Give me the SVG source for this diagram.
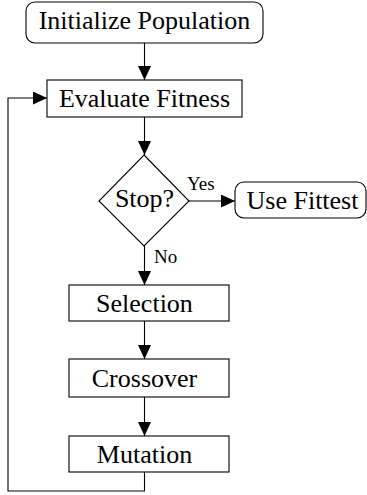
<svg xmlns="http://www.w3.org/2000/svg" width="367" height="495" viewBox="0 0 367 495">
<defs>
<style>
.n{fill:#fff;stroke:#000;stroke-width:1.1}
.t{font-family:"Liberation Serif","Times New Roman",serif;font-size:26px;fill:#000;text-anchor:middle}
.l{font-family:"Liberation Serif","Times New Roman",serif;font-size:19px;fill:#000}
.c{fill:none;stroke:#000;stroke-width:1.1}
</style>
<marker id="ah" markerWidth="14" markerHeight="13" refX="14" refY="6.5" orient="auto" markerUnits="userSpaceOnUse">
<path d="M0,0 L14,6.5 L0,13 Z" fill="#000"/>
</marker>
</defs>
<rect width="367" height="495" fill="#fff"/>
<g id="connectors">
<path class="c" d="M144.5,43 V80" marker-end="url(#ah)"/>
<path class="c" d="M144.5,117 V155" marker-end="url(#ah)"/>
<path class="c" d="M189,201 H235" marker-end="url(#ah)"/>
<path class="c" d="M144.5,246 V285" marker-end="url(#ah)"/>
<path class="c" d="M144.5,321 V359" marker-end="url(#ah)"/>
<path class="c" d="M144.5,397 V436" marker-end="url(#ah)"/>
<path class="c" d="M144.5,472 V491 H8 V98 H47" marker-end="url(#ah)"/>
<text class="l" x="187" y="190">Yes</text>
<text class="l" x="154" y="263">No</text>
</g>
<g id="init">
<rect class="n" x="26" y="2" width="237" height="41" rx="9"/>
<text class="t" x="144.5" y="29">Initialize Population</text>
</g>
<g id="evaluate">
<rect class="n" x="47" y="80" width="195" height="37"/>
<text class="t" x="144.5" y="107">Evaluate Fitness</text>
</g>
<g id="stop">
<polygon class="n" points="144,155 189,201 144,246 99,201"/>
<text class="t" x="144.5" y="207">Stop?</text>
</g>
<g id="usefittest">
<rect class="n" x="235" y="182" width="131" height="36" rx="9"/>
<text class="t" x="302.5" y="208.5">Use Fittest</text>
</g>
<g id="selection">
<rect class="n" x="69" y="285" width="160" height="36"/>
<text class="t" x="144.5" y="311.5">Selection</text>
</g>
<g id="crossover">
<rect class="n" x="69" y="359" width="160" height="38"/>
<text class="t" x="144.5" y="386.5">Crossover</text>
</g>
<g id="mutation">
<rect class="n" x="69" y="436" width="160" height="36"/>
<text class="t" x="144.5" y="462.5">Mutation</text>
</g>
</svg>
